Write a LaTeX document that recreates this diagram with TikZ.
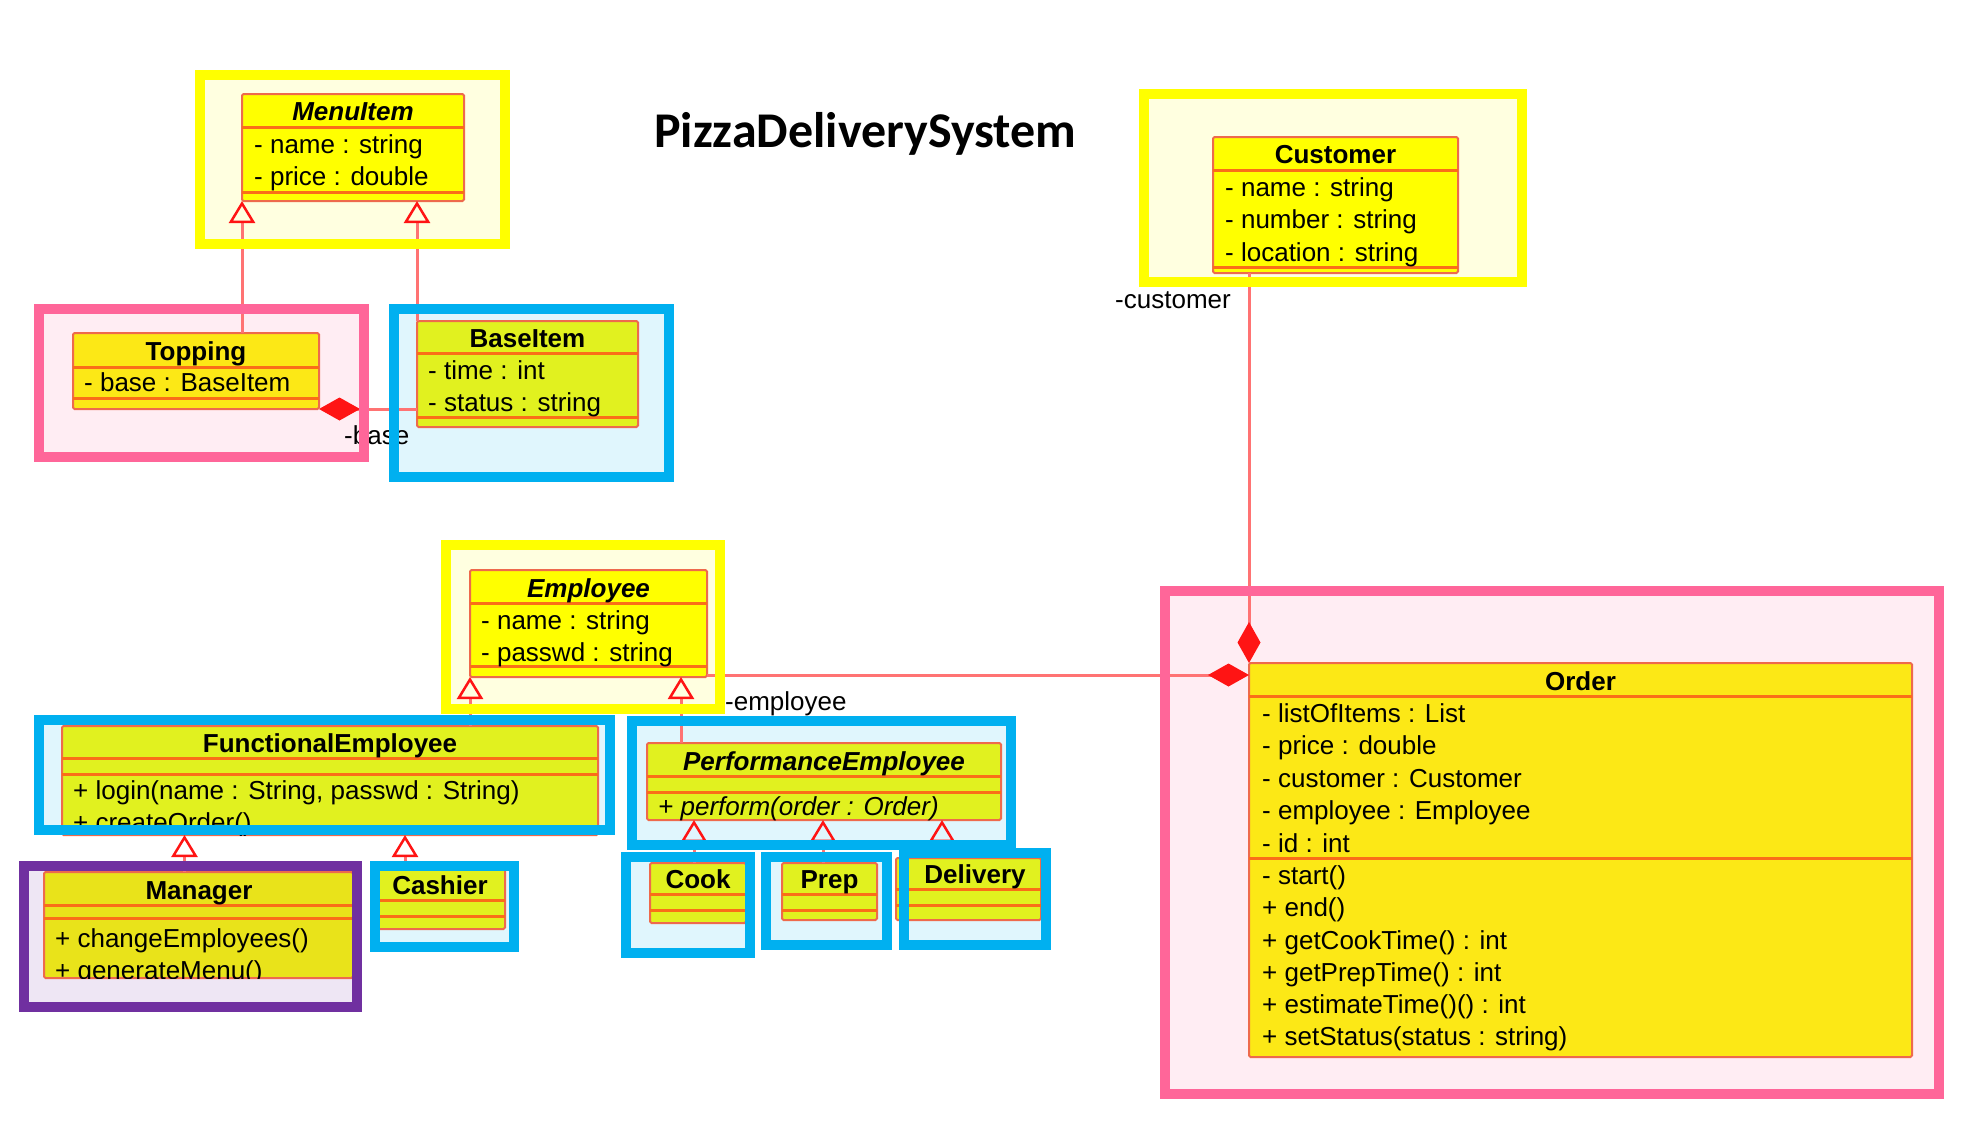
\documentclass[tikz,border=0pt]{standalone}
\usepackage{fontspec}
\setmainfont{Liberation Sans}
\newfontfamily\headfont{Carlito}
\usetikzlibrary{arrows.meta,fit}

\definecolor{hlyellow}{HTML}{FFFF00}
\definecolor{hlpink}{HTML}{FF6699}
\definecolor{hlblue}{HTML}{00B0F0}
\definecolor{hlpurple}{HTML}{7030A0}
\definecolor{clsyellow}{HTML}{FFFF00}
\definecolor{clspink}{HTML}{FCE816}
\definecolor{clsblue}{HTML}{E1F11F}
\definecolor{clspurple}{HTML}{E9E31A}
\definecolor{clsedge}{HTML}{EE6A4C}
\definecolor{clssep}{HTML}{FA6E18}
\definecolor{assoc}{HTML}{FF7373}
\definecolor{tipred}{HTML}{FF1414}

\tikzset{
	classbox/.style={draw=clsedge, line width=2pt, inner sep=0pt, outer sep=0pt, rounded corners=1.5pt},
	sepline/.style={draw=clssep, line width=3pt},
	cname/.style={font=\fontsize{26}{31}\selectfont\bfseries, inner sep=0pt, text height=18.5pt, text depth=5.5pt, yshift=-3.5pt},
	abstract/.style={cname, font=\fontsize{26}{31}\selectfont\bfseries\itshape},
	member/.style={font=\fontsize{26}{31}\selectfont, anchor=west, inner sep=0pt, text height=18.5pt, text depth=5.5pt, yshift=-3pt},
	opitalic/.style={member, font=\fontsize{26}{31}\selectfont\itshape},
	headline/.style={font=\headfont\bfseries\fontsize{50}{60}\selectfont, anchor=west, inner sep=0pt},
	assocline/.style={draw=assoc, line width=3pt},
	inherit/.style={assocline, -{Triangle[open,length=22pt,width=26pt,color=tipred,line width=2.5pt]}},
	compo/.style={assocline, {Diamond[length=41pt,width=23pt,color=tipred]}-},
	hlframe/.style={line width=10pt}
}

% name, fill, x1, ytop, x2, ysep1, ysep2, ybot
\newcommand\umlbox[8]{%
	\node[classbox, fill=#2, fit={(#3,#4) (#5,#8)}] (#1) {};
	\draw[sepline] (#3,#6) -- (#5,#6);
	\draw[sepline] (#3,#7) -- (#5,#7);
}

\def\framelist{195/70/510/249/hlyellow, 1139/89/1527/287/hlyellow, 34/304/369/462/hlpink, 389/304/674/482/hlblue, 441/540/725/714/hlyellow, 34/715/615/835/hlblue, 627/716/1016/850/hlblue, 19/861/362/1012/hlpurple, 370/861/519/952/hlblue, 621/852/755/958/hlblue, 761/852/892/950/hlblue, 899/848/1051/950/hlblue, 1160/586/1944/1099/hlpink}

\begin{document}
\begin{tikzpicture}[x=1pt, y=-1pt]
	%%%%% START %%%%%
	\useasboundingbox (0,0) rectangle (1964,1125);

	\foreach \x/\y/\X/\Y/\c in \framelist
		\fill[\c!12] (\x,\y) rectangle (\X,\Y);

	\node[headline] (title) at (654,134) {PizzaDeliverySystem};

	%%%%% CLASSES %%%%%
	\umlbox{menuitem}{clsyellow}{242}{94}{464}{127}{192}{201}
	\node[abstract] (menuitem-t) at (353,110.5) {MenuItem};
	\foreach \m [count=\i] in {- name : string, - price : double}
		\node[member] (menuitem-a\i) at (254,111.2+32.3*\i) {\m};

	\umlbox{customer}{clsyellow}{1213}{137}{1458}{170}{267}{273}
	\node[cname] (customer-t) at (1335.5,153.5) {Customer};
	\foreach \m [count=\i] in {- name : string, - number : string, - location : string}
		\node[member] (customer-a\i) at (1225,154.7+32.3*\i) {\m};

	\umlbox{topping}{clspink}{73}{333}{319}{367}{398}{409}
	\node[cname] (topping-t) at (196,350) {Topping};
	\node[member] (topping-a1) at (84,382) {- base : BaseItem};

	\umlbox{baseitem}{clsblue}{417}{321}{638}{353}{417}{427}
	\node[cname] (baseitem-t) at (527.5,337) {BaseItem};
	\foreach \m [count=\i] in {- time : int, - status : string}
		\node[member] (baseitem-a\i) at (428,337.7+32.3*\i) {\m};

	\umlbox{employee}{clsyellow}{470}{570}{707}{603}{666}{677}
	\node[abstract] (employee-t) at (588.5,587) {Employee};
	\foreach \m [count=\i] in {- name : string, - passwd : string}
		\node[member] (employee-a\i) at (481,587.7+32.3*\i) {\m};

	\umlbox{fe}{clsblue}{62}{726}{598}{758}{774}{835}
	\node[cname] (fe-t) at (330,742) {FunctionalEmployee};
	\begin{scope}
		\clip (fe.north west) rectangle (fe.south east);
		\foreach \m [count=\i] in {{+ login(name : String, passwd : String)}, + createOrder()}
			\node[member] (fe-o\i) at (73,757.7+32.3*\i) {\m};
	\end{scope}

	\umlbox{pe}{clsblue}{647}{743}{1001}{776}{792}{820}
	\node[abstract] (pe-t) at (824,760) {PerformanceEmployee};
	\node[opitalic] (pe-o1) at (658,806) {+ perform(order : Order)};

	\umlbox{manager}{clspurple}{44}{872}{353}{905}{918}{978}
	\node[cname] (manager-t) at (199,889) {Manager};
	\begin{scope}
		\clip (manager.north west) rectangle (manager.south east);
		\foreach \m [count=\i] in {+ changeEmployees(), + generateMenu()}
			\node[member] (manager-o\i) at (55,906+32*\i) {\m};
	\end{scope}

	\umlbox{cashier}{clsblue}{377}{869}{505}{900}{916}{929}
	\node[cname] (cashier-t) at (440,884) {Cashier};

	\umlbox{cook}{clsblue}{650}{863}{746}{894}{910}{923}
	\node[cname] (cook-t) at (698,878) {Cook};

	\umlbox{prep}{clsblue}{782}{863}{877}{894}{910}{920}
	\node[cname] (prep-t) at (829.5,878) {Prep};

	\umlbox{delivery}{clsblue}{896}{858}{1041}{889}{905}{920}
	\node[cname] (delivery-t) at (975,873.5) {Delivery};

	\umlbox{order}{clspink}{1249}{663}{1912}{696}{858}{1057}
	\node[cname] (order-t) at (1580.5,680) {Order};
	\foreach \m [count=\i] in {- listOfItems : List, - price : double, - customer : Customer, - employee : Employee, - id : int}
		\node[member] (order-a\i) at (1262,680.6+32.4*\i) {\m};
	\foreach \m [count=\i] in {- start(), + end(), + getCookTime() : int, + getPrepTime() : int, + estimateTime()() : int, + setStatus(status : string)}
		\node[member] (order-o\i) at (1262,842.6+32.3*\i) {\m};

	%%%%% RELATIONS %%%%%
	\draw[inherit] (topping.north -| menuitem.south west) -- (menuitem.south west);
	\draw[inherit] (baseitem.north west) -- (baseitem.north west |- menuitem.south);
	\draw[compo] (topping.south east) -- (topping.south east -| baseitem.west);

	\draw[inherit] (fe.north -| employee.south west) -- (employee.south west);
	\coordinate (emp-r) at ([xshift=-26pt]employee.south east);
	\draw[inherit] (emp-r |- pe.north) -- (emp-r);

	\coordinate (mgr-up) at ([xshift=-14pt]manager.north);
	\coordinate (csh-up) at ([xshift=-36pt]cashier.north);
	\draw[inherit] (mgr-up) -- (mgr-up |- fe.south);
	\draw[inherit] (csh-up) -- (csh-up |- fe.south);

	\coordinate (cook-up) at ([xshift=-4pt]cook.north);
	\coordinate (prep-up) at ([xshift=-6.5pt]prep.north);
	\coordinate (dlv-up) at ([xshift=-26.5pt]delivery.north);
	\foreach \s in {cook-up, prep-up, dlv-up}
		\draw[inherit] (\s) -- (\s |- pe.south);

	\draw[compo] (order.north west) -- (order.north west |- customer.south);
	\coordinate (ord-emp) at ([yshift=-12pt]order.north west);
	\draw[compo] (ord-emp) -- (ord-emp -| employee.east);

	\node[member] (base-role) at (344,435) {-base};
	\node[member] (customer-role) at (1115,299) {-customer};
	\node[member] (employee-role) at (725,701) {-employee};

	%%%%% HIGHLIGHT FRAMES %%%%%
	\foreach \x/\y/\X/\Y/\c in \framelist
		\draw[hlframe, draw=\c] (\x+5,\y+5) rectangle (\X-5,\Y-5);

	%%%%% END %%%%%
\end{tikzpicture}
\end{document}
